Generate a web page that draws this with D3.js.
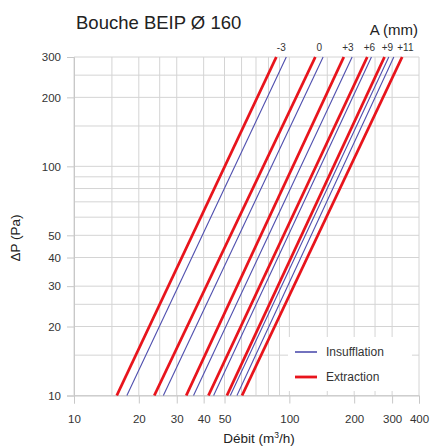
<!DOCTYPE html>
<html>
<head>
<meta charset="utf-8">
<script src="https://cdn.jsdelivr.net/npm/d3@7"></script>
<style>
  body { margin: 0; background: #fff; }
  svg { display: block; font-family: 'Liberation Sans', Arial, sans-serif; }
</style>
</head>
<body>
<svg width="433" height="446"></svg>
<script>
// opening settings A (mm), one pair of curves per setting
var settings = ['-3', '0', '+3', '+6', '+9', '+11'];
var pressureEnds = [10, 300];
// flow (m3/h) read at 10 Pa and at 300 Pa
var insufflationAt10 = [17.6, 26.0, 35.9, 44.5, 53.2, 57.1];
var insufflationAt300 = [96.8, 143.5, 195.7, 240.6, 289.6, 305.6];
var extractionAt10 = [15.8, 23.6, 33.2, 42.1, 51.3, 60.3];
var extractionAt300 = [87, 132, 179, 230, 276.6, 334];

var xTicks = [10, 20, 30, 40, 50, 100, 200, 300, 400];
var yTicks = [10, 20, 30, 40, 50, 100, 200, 300];
var xGrid = [10, 15, 20, 25, 30, 40, 50, 60, 70, 80, 90, 100, 150, 200, 250, 300, 400];
var yGrid = [10, 15, 20, 25, 30, 40, 50, 60, 70, 80, 90, 100, 150, 200, 250, 300];

var plotLeft = 74, plotRight = 419, plotTop = 57, plotBottom = 395.5;
var blue = '#4f4fae', red = '#e8141c';

var svg = d3.select('svg');

var x = d3.scaleLog().domain([10, 400]).range([plotLeft, plotRight]);
var y = d3.scaleLog().domain([10, 300]).range([plotBottom, plotTop]);

// grid
svg.append('g')
  .selectAll('line')
  .data(xGrid)
  .enter().append('line')
  .attr('x1', function(d) { return x(d); })
  .attr('x2', function(d) { return x(d); })
  .attr('y1', plotTop)
  .attr('y2', plotBottom)
  .attr('stroke', '#d4d4d4')
  .attr('stroke-width', 1);

svg.append('g')
  .selectAll('line')
  .data(yGrid)
  .enter().append('line')
  .attr('x1', plotLeft)
  .attr('x2', plotRight)
  .attr('y1', function(d) { return y(d); })
  .attr('y2', function(d) { return y(d); })
  .attr('stroke', '#d4d4d4')
  .attr('stroke-width', 1);

// axes
var xAxis = svg.append('g')
  .attr('transform', 'translate(0,' + plotBottom + ')')
  .call(d3.axisBottom(x).tickValues(xTicks).tickFormat(d3.format('d')).tickSize(8).tickPadding(11));

var yAxis = svg.append('g')
  .attr('transform', 'translate(' + plotLeft + ',0)')
  .call(d3.axisLeft(y).tickValues(yTicks).tickFormat(d3.format('d')).tickSize(7).tickPadding(6));

[xAxis, yAxis].forEach(function(a) {
  a.select('.domain').attr('stroke', '#c8c8c8');
  a.selectAll('.tick line').attr('stroke', '#c8c8c8');
  a.selectAll('.tick text')
    .attr('fill', '#333')
    .style('font-size', '11.5px')
    .style('font-family', "'Liberation Sans', Arial, sans-serif");
});

// legend background hides the grid behind it
svg.append('rect')
  .attr('x', 288).attr('y', 337)
  .attr('width', 124).attr('height', 54)
  .attr('fill', '#fff');

// curves
var line = d3.line()
  .x(function(d) { return x(d.q); })
  .y(function(d) { return y(d.p); });

function pairs(at10, at300) {
  return at10.map(function(q, i) {
    return [{ q: q, p: pressureEnds[0] }, { q: at300[i], p: pressureEnds[1] }];
  });
}

svg.append('g')
  .selectAll('path')
  .data(pairs(extractionAt10, extractionAt300))
  .enter().append('path')
  .attr('d', line)
  .attr('fill', 'none')
  .attr('stroke', red)
  .attr('stroke-width', 2.8);

svg.append('g')
  .selectAll('path')
  .data(pairs(insufflationAt10, insufflationAt300))
  .enter().append('path')
  .attr('d', line)
  .attr('fill', 'none')
  .attr('stroke', blue)
  .attr('stroke-width', 1.1);

// setting labels above the top of each pair
var prev = -Infinity;
var labelX = settings.map(function(s, i) {
  var cx = (x(extractionAt300[i]) + x(insufflationAt300[i])) / 2;
  cx = Math.max(cx, prev + 18);
  prev = cx;
  return cx;
});

svg.append('g')
  .selectAll('text')
  .data(settings)
  .enter().append('text')
  .attr('x', function(d, i) { return labelX[i]; })
  .attr('y', 51)
  .attr('text-anchor', 'middle')
  .attr('fill', '#333')
  .style('font-size', '10px')
  .text(function(d) { return d; });

svg.append('text')
  .attr('x', 418).attr('y', 35)
  .attr('text-anchor', 'end')
  .attr('fill', '#222')
  .style('font-size', '15px')
  .text('A (mm)');

// title
svg.append('text')
  .attr('x', 76).attr('y', 29)
  .attr('fill', '#222')
  .style('font-size', '18.5px')
  .text('Bouche BEIP Ø 160');

// axis titles
var xTitle = svg.append('text')
  .attr('x', 259).attr('y', 443)
  .attr('text-anchor', 'middle')
  .attr('fill', '#222')
  .style('font-size', '13.5px');
xTitle.append('tspan').text('Débit (m');
xTitle.append('tspan').attr('dy', -5).style('font-size', '8.5px').text('3');
xTitle.append('tspan').attr('dy', 5).text('/h)');

svg.append('text')
  .attr('transform', 'translate(20,238) rotate(-90)')
  .attr('text-anchor', 'middle')
  .attr('fill', '#222')
  .style('font-size', '13.5px')
  .text('ΔP (Pa)');

// legend
var legend = [
  { name: 'Insufflation', color: blue, width: 1.6 },
  { name: 'Extraction', color: red, width: 2.8 }
];

var lg = svg.append('g')
  .selectAll('g')
  .data(legend)
  .enter().append('g')
  .attr('transform', function(d, i) { return 'translate(295,' + (352 + i * 25) + ')'; });

lg.append('line')
  .attr('x1', 0).attr('x2', 22)
  .attr('stroke', function(d) { return d.color; })
  .attr('stroke-width', function(d) { return d.width; });

lg.append('text')
  .attr('x', 31).attr('y', 4)
  .attr('fill', '#333')
  .style('font-size', '12px')
  .text(function(d) { return d.name; });
</script>
</body>
</html>
